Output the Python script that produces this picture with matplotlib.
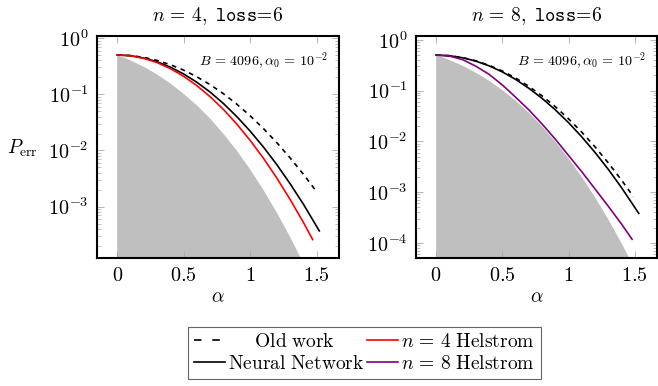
import math

import matplotlib
matplotlib.use("Agg")
import matplotlib.pyplot as plt
from matplotlib.ticker import LogLocator, NullFormatter, FixedLocator

plt.rcParams["mathtext.fontset"] = "cm"
plt.rcParams["font.family"] = "serif"
plt.rcParams["axes.unicode_minus"] = False

# Helstrom-type lower bound, drawn as the shaded region in both panels
alpha_bound = [0.0, 0.05, 0.1, 0.2, 0.3, 0.4, 0.5, 0.6, 0.7, 0.8, 0.9,
               1.0, 1.1, 1.2, 1.3, 1.4, 1.5, 1.6]
p_bound = [0.5, 0.450, 0.401, 0.308, 0.225, 0.156, 0.102, 0.0632, 0.0366,
           0.0197, 0.00989, 0.00460, 0.00198, 7.88e-4, 2.90e-4, 9.84e-5,
           3.09e-5, 8.93e-6]

# n = 4 panel
alpha_old_4 = [0.0, 0.1, 0.2, 0.3, 0.4, 0.5, 0.6, 0.7, 0.8, 0.9, 1.0, 1.1,
               1.2, 1.3, 1.4, 1.495]
p_old_4 = [0.501, 0.489, 0.454, 0.400, 0.336, 0.269, 0.204, 0.148, 0.102,
           0.0665, 0.0414, 0.0245, 0.0138, 0.00741, 0.00378, 0.00191]
alpha_nn_4 = [0.0, 0.1, 0.2, 0.3, 0.4, 0.5, 0.6, 0.7, 0.8, 0.9, 1.0, 1.1,
              1.2, 1.3, 1.4, 1.52]
p_nn_4 = [0.501, 0.486, 0.442, 0.379, 0.304, 0.230, 0.163, 0.109, 0.0681,
          0.0400, 0.0221, 0.0115, 0.00561, 0.00257, 0.00111, 3.71e-4]
alpha_hel_4 = [0.0, 0.1, 0.2, 0.3, 0.4, 0.5, 0.6, 0.7, 0.8, 0.9, 1.0, 1.1,
               1.2, 1.3, 1.4, 1.47]
p_hel_4 = [0.501, 0.484, 0.436, 0.366, 0.286, 0.209, 0.142, 0.0902, 0.0534,
           0.0294, 0.0151, 0.00726, 0.00324, 0.00135, 5.26e-4, 2.60e-4]

# n = 8 panel
alpha_old_8 = [0.0, 0.1, 0.2, 0.3, 0.4, 0.5, 0.6, 0.7, 0.8, 0.9, 1.0, 1.1,
               1.2, 1.3, 1.4, 1.49]
p_old_8 = [0.501, 0.487, 0.446, 0.386, 0.315, 0.243, 0.177, 0.121, 0.0786,
           0.0481, 0.0277, 0.0151, 0.00776, 0.00376, 0.00172, 8.11e-4]
alpha_nn_8 = [0.0, 0.1, 0.2, 0.3, 0.4, 0.5, 0.6, 0.7, 0.8, 0.9, 1.0, 1.1,
              1.2, 1.3, 1.4, 1.53]
p_nn_8 = [0.501, 0.486, 0.443, 0.380, 0.307, 0.233, 0.166, 0.111, 0.0703,
          0.0417, 0.0233, 0.0122, 0.00603, 0.00280, 0.00122, 3.80e-4]
alpha_hel_8 = [0.0, 0.1, 0.2, 0.3, 0.4, 0.5, 0.6, 0.7, 0.8, 0.9, 1.0, 1.1,
               1.2, 1.3, 1.4, 1.48]
p_hel_8 = [0.501, 0.479, 0.407, 0.302, 0.209, 0.129, 0.0741, 0.0417, 0.0219,
           0.0110, 0.00525, 0.00251, 0.00115, 5.25e-4, 2.34e-4, 1.17e-4]

x_ticks = [0, 0.5, 1, 1.5]
x_tick_labels = [r"$0$", r"$0.5$", r"$1$", r"$1.5$"]
y_ticks_4 = [1, 1e-1, 1e-2, 1e-3]
y_ticks_8 = [1, 1e-1, 1e-2, 1e-3, 1e-4]
titles = [r"$n\,=\,4,\ \mathtt{loss\!=\!6}$", r"$n\,=\,8,\ \mathtt{loss\!=\!6}$"]
note = r"$B\,=\,4096, \alpha_0\,=\,10^{-2}$"
legend_labels = [r"$\quad\;\;\mathrm{Old\ work}$", r"$\mathrm{Neural\ Network}$",
                 r"$n\,=\,4\ \mathrm{Helstrom}$", r"$n\,=\,8\ \mathrm{Helstrom}$"]

fig = plt.figure(figsize=(6.58, 3.86), dpi=100)
ax1 = fig.add_axes([0.1474, 0.3316, 0.3678, 0.5751])
ax2 = fig.add_axes([0.6322, 0.3316, 0.3663, 0.5751])

gray = "#bfbfbf"
tick_gray = "#a8a8a8"
dash = (2.8, 2.8)
fs = 14


def style_axis(ax, yticks, ylim, title):
    ax.set_yscale("log")
    ax.set_xlim(-0.152, 1.668)
    ax.set_ylim(*ylim)
    ax.set_xticks(x_ticks)
    ax.set_xticklabels(x_tick_labels)
    ax.yaxis.set_major_locator(FixedLocator(yticks))
    ax.set_yticklabels([r"$10^{%d}$" % round(math.log10(t)) for t in yticks])
    ax.yaxis.set_minor_locator(LogLocator(base=10, subs=range(2, 10), numticks=20))
    ax.yaxis.set_minor_formatter(NullFormatter())
    ax.tick_params(which="both", direction="in", top=True, right=True,
                   color=tick_gray, labelsize=fs + 0.5)
    ax.tick_params(which="major", length=5, width=0.6, pad=6)
    ax.tick_params(which="minor", length=3, width=0.5)
    for s in ax.spines.values():
        s.set_linewidth(1.5)
    ax.set_title(title, fontsize=fs, pad=11)
    ax.set_xlabel(r"$\alpha$", fontsize=fs)
    ax.xaxis.set_label_coords(0.5, -0.175)
    ax.xaxis.label.set_va("center")
    ax.text(0.955, 0.885, note, transform=ax.transAxes, ha="right", va="center",
            fontsize=10.2)


for ax in (ax1, ax2):
    ax.fill_between(alpha_bound, p_bound, 1e-8, color=gray, lw=0, zorder=1)

ax1.plot(alpha_old_4, p_old_4, color="black", lw=1.2, dashes=dash, zorder=3)
ax1.plot(alpha_nn_4, p_nn_4, color="black", lw=1.2, zorder=3)
ax1.plot(alpha_hel_4, p_hel_4, color="red", lw=1.2, zorder=3)

ax2.plot(alpha_old_8, p_old_8, color="black", lw=1.2, dashes=dash, zorder=3)
h_nn, = ax2.plot(alpha_nn_8, p_nn_8, color="black", lw=1.2, zorder=3)
h_8, = ax2.plot(alpha_hel_8, p_hel_8, color="#800080", lw=1.2, zorder=3)

style_axis(ax1, y_ticks_4, (10 ** -3.913, 10 ** 0.037), titles[0])
style_axis(ax2, y_ticks_8, (10 ** -4.30, 10 ** 0.075), titles[1])

ax1.set_ylabel(r"$P_{\mathrm{err}}$", rotation=0, fontsize=fs, ha="center", va="center")
ax1.yaxis.set_label_coords(-0.31, 0.495)

# shared legend below both panels
h_old = plt.Line2D([], [], color="black", lw=1.2, dashes=(4.5, 6.5))
h_4 = plt.Line2D([], [], color="red", lw=1.2)
leg = fig.legend([h_old, h_nn, h_4, h_8], legend_labels,
                 ncol=2, loc="center", bbox_to_anchor=(0.554, 0.0855),
                 fontsize=fs, frameon=True, fancybox=False, edgecolor="#404040",
                 handlelength=1.6, handletextpad=0.15, columnspacing=0.15,
                 labelspacing=0.2, borderpad=0.3, borderaxespad=0)
leg.get_frame().set_linewidth(0.8)

fig.savefig("out.png", dpi=100)
